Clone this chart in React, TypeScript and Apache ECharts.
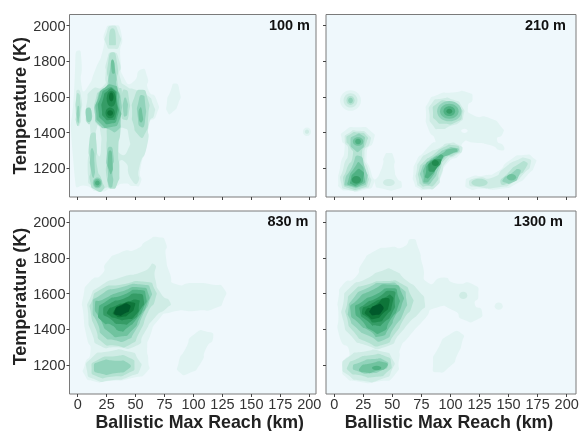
import React, { useEffect, useRef } from "react";
import * as echarts from "echarts";

const background = "#eff8fc";
const levelColors = ["#e2f4f3", "#cfece5", "#b4e2d2", "#92d3bb", "#70c39f", "#4fb183", "#359c66", "#1f8a4e", "#0e7539", "#00592b"];
const xTicks = [0, 25, 50, 75, 100, 125, 150, 175, 200];
const yTicks = [1200, 1400, 1600, 1800, 2000];
const panelNames = ["100 m", "210 m", "830 m", "1300 m"];

// Each entry: [level, outline as [km, K] points] or [level, [[km, K]], radiusKm, radiusK]
const contours100: any[] = [
  [0, [[-2,1115],[-2,1825],[1,1860],[3,1825],[4,1640],[8,1650],[15,1750],[22,1870],[24,1975],[30,2000],[37,1975],[37,1805],[41,1695],[47,1680],[55,1755],[60,1715],[61,1640],[68,1585],[68,1500],[61,1445],[60,1340],[54,1190],[54,1115],[48,1100],[41,1115],[31,1095],[18,1070],[8,1100]]],
  [0, [[78,1510],[77,1565],[80,1630],[84,1675],[88,1630],[87,1565],[81,1510]]],
  [0, [[198,1405]], 3.5, 24],
  [1, [[198,1405]], 1.8, 12],
  [1, [[-1.5,1520],[-1.5,1590],[0,1640],[3,1600],[3,1500],[1.5,1440],[-0.5,1445]]],
  [1, [[8,1510],[11,1395],[9,1155],[13,1095],[20,1085],[27,1095],[33,1100],[34,1200],[40,1240],[47,1130],[52,1120],[53,1200],[60,1330],[62,1460],[66,1500],[65,1560],[60,1610],[50,1640],[42,1660],[37,1700],[36,1800],[30,1850],[25,1800],[24,1720],[22,1660],[12,1640],[8,1570]]],
  [1, [[25,1960],[30,2000],[35,1965],[36,1890],[30,1870],[25,1890]]],
  [0, [[35,1395],[40,1425],[44,1380],[43,1300],[37,1280],[35,1340]]],
  [0, [[17,1440],[19,1430],[20,1300],[18,1270],[16,1350]]],
  [2, [[27,1900],[30,1985],[33,1900],[30,1890]]],
  [2, [[-1.5,1500],[-1,1610],[0.5,1620],[2,1590],[2,1490],[0.5,1440],[-1,1450]]],
  [2, [[7,1490],[9,1530],[12,1515],[11,1460],[9,1450]]],
  [2, [[16,1600],[20,1640],[25,1660],[26,1780],[30,1850],[34,1790],[35,1660],[38,1640],[37,1420],[35,1300],[36,1180],[34,1110],[30,1085],[26,1110],[25,1300],[25,1400],[24,1440],[18,1440],[15,1500]]],
  [2, [[10,1350],[11,1200],[11,1120],[15,1080],[22,1080],[21,1130],[17,1200],[16,1350],[14,1400]]],
  [2, [[47,1500],[49,1600],[55,1640],[60,1600],[61,1500],[57,1380],[52,1390],[48,1450]]],
  [2, [[37.5,1510],[38,1610],[41,1640],[44,1600],[44,1500],[41,1470]]],
  [3, [[-0.5,1480],[-0.5,1530],[0.5,1550],[1.5,1520],[1,1470],[0.5,1455]]],
  [3, [[7,1500],[9,1540],[12,1510],[10,1460]]],
  [3, [[11,1290],[13,1310],[14.5,1230],[14,1150],[12,1170]]],
  [3, [[17,1118]], 4, 30],
  [3, [[15,1500],[17,1590],[21,1640],[25,1650],[27,1720],[30,1800],[33,1730],[34,1650],[37,1600],[37,1480],[34,1410],[26,1420],[19,1440]]],
  [3, [[25,1260],[28,1320],[31,1260],[30,1200],[30,1100],[27,1100],[26,1190]]],
  [3, [[39.5,1510],[40,1590],[42,1590],[43,1520],[41,1490]]],
  [3, [[52,1480],[53,1590],[56,1610],[58,1580],[58,1460],[55,1430]]],
  [4, [[16,1510],[18,1600],[23,1650],[31,1665],[35,1630],[36,1560],[36,1470],[28,1430],[20,1450]]],
  [4, [[29,1760],[30,1810],[32,1760],[31,1730]]],
  [4, [[53,1470],[54,1540],[56,1500],[55.5,1460]]],
  [4, [[26,1240],[28,1300],[30,1240],[29,1170],[27,1190]]],
  [4, [[17,1118]], 3.2, 24],
  [5, [[17,1118]], 2, 14],
  [5, [[18,1520],[20,1600],[25,1645],[32,1640],[34,1590],[34,1480],[28,1450],[22,1465]]],
  [6, [[21,1520],[22,1590],[26,1635],[31,1640],[33,1600],[33,1490],[28,1470],[23,1485]]],
  [7, [[28,1510]], 4, 30],
  [7, [[29,1590]], 4, 45],
  [8, [[28,1510]], 2.5, 15],
  [8, [[29,1600]], 2, 25],
];

const contours210: any[] = [
  [0, [[14,1580]], 9, 58],
  [1, [[14,1580]], 6, 40],
  [2, [[14,1580]], 3.5, 25],
  [3, [[14,1580]], 2, 15],
  [0, [[3.5,1120],[5,1205],[9,1320],[6.5,1360],[8,1405],[21,1430],[32,1405],[34,1360],[28,1285],[32,1170],[34,1115],[26,1080],[12,1075],[5,1090]]],
  [1, [[6,1115],[8,1205],[12,1300],[9,1360],[12,1395],[21,1410],[29.5,1385],[31,1350],[26,1285],[30,1170],[31,1115],[25,1085],[12,1080]]],
  [2, [[10.5,1360],[13.5,1390],[21,1400],[28,1380],[28,1350],[24,1275],[28,1170],[29,1120],[24,1090],[12,1090],[8,1120],[10.5,1190],[16,1275],[13.5,1320]]],
  [3, [[14,1350],[18,1385],[24,1385],[26,1350],[22,1300],[18,1300]]],
  [3, [[9,1120],[15,1205],[21,1270],[27,1190],[28,1135],[24,1100],[12,1100]]],
  [4, [[20.5,1350]], 4.5, 24],
  [4, [[12,1130],[18,1210],[22,1230],[26,1150],[24,1110],[13,1105]]],
  [5, [[20.5,1350]], 2.5, 15],
  [5, [[14,1130],[18,1180],[23,1190],[25,1145],[21,1110],[15,1110]]],
  [6, [[19,1135]], 4, 22],
  [0, [[35,1115],[39,1170],[42,1225],[43,1265],[47,1285],[51,1265],[52,1190],[54,1145],[58,1115],[55,1085],[42,1085]]],
  [1, [[47,1120]], 5, 20],
  [0, [[69,1115],[68,1170],[71,1245],[77,1290],[84,1340],[87,1355],[81,1420],[79,1510],[81,1570],[88,1610],[102,1625],[115,1625],[119,1590],[115,1545],[119,1500],[134,1480],[144,1430],[145,1395],[140,1360],[146,1320],[144,1300],[134,1330],[119,1345],[111,1345],[109,1285],[97,1225],[92,1155],[88,1100],[79,1080],[72,1090]]],
  [-1, [[112,1410]], 2.8, 12],
  [1, [[82,1500],[84,1565],[92,1590],[102,1585],[110,1545],[111,1490],[108,1460],[101,1440],[91,1420],[85,1440]]],
  [2, [[85,1510],[88,1560],[99,1575],[107,1545],[110,1500],[105,1460],[94,1450],[88,1465]]],
  [3, [[99,1520]], 10.5, 57],
  [4, [[99,1520]], 8, 42],
  [5, [[99,1520]], 5, 27],
  [6, [[99,1520]], 2.5, 14],
  [1, [[71,1125],[71,1190],[74,1245],[81,1285],[91,1315],[98,1340],[107,1330],[110,1300],[105,1275],[97,1240],[92,1165],[88,1100],[79,1085],[74,1095]]],
  [2, [[73,1135],[73,1190],[77,1235],[85,1275],[95,1320],[102,1330],[108,1305],[103,1275],[96,1255],[91,1190],[87,1115],[79,1100],[75,1105]]],
  [3, [[75,1145],[75,1190],[80,1235],[88,1275],[97,1310],[104,1315],[107,1300],[101,1280],[94,1255],[90,1200],[85,1135],[79,1110]]],
  [4, [[77,1150],[78,1210],[84,1250],[92,1280],[100,1310],[106,1300],[100,1280],[92,1250],[88,1200],[84,1150],[78,1120]]],
  [5, [[79,1180],[81,1225],[87,1255],[93,1275],[92,1240],[88,1200],[84,1165],[79,1145]]],
  [6, [[81,1200],[84,1240],[90,1250],[92,1240],[88,1200],[84,1180]]],
  [7, [[87,1230]], 3, 17],
  [0, [[113,1120],[117,1150],[129,1160],[140,1180],[151,1245],[163,1275],[172,1255],[173,1225],[166,1160],[157,1115],[144,1085],[125,1085],[116,1085]]],
  [1, [[116,1115],[122,1145],[137,1150],[146,1200],[157,1245],[166,1255],[169,1225],[163,1170],[154,1120],[143,1095],[123,1095]]],
  [2, [[125,1120]], 7, 22],
  [2, [[143,1120],[149,1170],[159,1225],[165,1235],[165,1205],[157,1150],[150,1115]]],
  [3, [[145,1135],[152,1170],[159,1195],[159,1160],[153,1120],[147,1120]]],
  [4, [[152.5,1150]], 4, 18],
];

const contours830: any[] = [
  [0, [[6,1145],[6,1200],[11,1275],[8,1350],[5,1480],[5,1590],[11,1670],[21,1710],[25,1775],[37,1830],[51,1850],[60,1895],[70,1915],[76,1885],[76,1815],[80,1705],[84,1655],[100,1660],[117,1650],[126,1630],[126,1565],[119,1520],[103,1505],[80,1495],[70,1455],[62,1355],[60,1300],[61,1220],[60,1165],[48,1130],[25,1110],[14,1110]]],
  [0, [[87,1210],[93,1290],[101,1375],[113,1385],[117,1355],[111,1295],[106,1210],[96,1155],[88,1160]]],
  [1, [[13,1365],[9,1490],[11,1580],[19,1640],[37,1690],[57,1725],[66,1765],[67,1680],[72,1600],[80,1550],[77,1520],[67,1470],[57,1375],[51,1310],[32,1300],[19,1310]]],
  [1, [[8,1170],[12,1240],[25,1275],[45,1275],[52,1235],[54,1180],[46,1140],[28,1115],[15,1120]]],
  [2, [[16,1395],[11,1505],[12,1555],[19,1620],[37,1650],[60,1665],[66,1630],[67,1570],[61,1500],[53,1380],[45,1315],[32,1310],[21,1330]]],
  [2, [[12,1180],[16,1225],[32,1250],[45,1240],[49,1200],[45,1160],[29,1135],[16,1140]]],
  [3, [[18,1420],[13,1530],[19,1590],[37,1635],[57,1650],[63,1620],[62,1560],[57,1490],[49,1385],[42,1340],[32,1340],[22,1365]]],
  [3, [[14,1185],[19,1220],[32,1225],[44,1210],[44,1180],[32,1155],[19,1155]]],
  [4, [[20,1450],[15,1545],[21,1565],[37,1610],[55,1635],[61,1600],[60,1545],[54,1470],[47,1395],[37,1360],[28,1380]]],
  [5, [[18,1500],[24,1555],[38,1590],[54,1620],[59,1580],[57,1525],[51,1460],[42,1405],[37,1390],[29,1425],[22,1440]]],
  [6, [[22,1500],[28,1545],[39,1570],[52,1600],[57,1565],[54,1510],[47,1450],[37,1430],[28,1460]]],
  [7, [[26,1505],[32,1530],[42,1550],[52,1565],[53,1540],[50,1480],[42,1455],[34,1460],[27,1480]]],
  [8, [[31,1500],[38,1540],[48,1550],[49,1525],[45,1490],[38,1470],[32,1480]]],
  [9, [[32,1505],[38,1535],[44,1540],[45,1515],[41,1490],[34,1480]]],
];

const contours1300: any[] = [
  [0, [[7,1180],[8,1220],[13,1275],[5,1350],[3.5,1500],[3.5,1570],[8,1655],[18,1690],[24,1770],[34,1835],[48,1860],[59,1860],[67,1905],[72,1860],[76,1760],[81,1660],[94,1690],[103,1660],[120,1650],[124,1590],[121,1540],[127,1505],[123,1455],[111,1455],[103,1505],[87,1520],[78,1460],[63,1350],[57,1295],[56,1240],[52,1145],[39,1110],[19,1110],[9,1140]]],
  [0, [[85,1200],[89,1290],[100,1375],[110,1375],[110,1330],[106,1260],[100,1195],[88,1160]]],
  [0, [[141.5,1530]], 3.5, 20],
  [1, [[111,1590]], 3.5, 20],
  [1, [[8,1445],[8,1555],[13,1630],[28,1685],[42,1730],[51,1730],[62,1675],[72,1620],[78,1545],[74,1500],[64,1435],[57,1380],[45,1305],[26,1315],[15,1360]]],
  [1, [[7,1190],[12,1245],[25,1275],[42,1275],[50,1235],[50,1180],[42,1125],[22,1115],[12,1145]]],
  [2, [[11,1465],[11,1540],[16,1610],[28,1650],[45,1670],[58,1655],[66,1590],[67,1535],[60,1460],[52,1375],[42,1315],[28,1330],[17,1385]]],
  [2, [[12,1200],[18,1230],[31,1255],[44,1250],[49,1210],[46,1165],[36,1135],[21,1145],[13,1165]]],
  [3, [[12,1500],[16,1570],[28,1630],[45,1660],[57,1635],[62,1570],[60,1500],[52,1415],[42,1340],[31,1360],[18,1415],[13,1465]]],
  [3, [[16,1190],[22,1215],[34,1235],[44,1225],[46,1195],[42,1175],[31,1155],[21,1165]]],
  [4, [[14,1505],[19,1560],[31,1615],[50,1650],[58,1605],[58,1535],[52,1470],[48,1415],[39,1360],[31,1390],[21,1435]]],
  [4, [[22,1185],[31,1210],[44,1215],[45,1190],[38,1170],[25,1160]]],
  [5, [[36.5,1185]], 4, 12],
  [5, [[18,1510],[24,1555],[34,1590],[50,1630],[55,1585],[55,1530],[48,1450],[41,1385],[32,1395],[25,1440]]],
  [6, [[22,1505],[26,1540],[35,1570],[50,1615],[52,1560],[50,1495],[42,1435],[37,1420],[29,1445]]],
  [7, [[24,1505],[31,1540],[44,1580],[49,1590],[50,1545],[45,1480],[36,1440],[29,1465]]],
  [8, [[27,1505],[34,1530],[45,1575],[47,1535],[42,1490],[35,1460],[29,1475]]],
  [9, [[31,1510],[36,1535],[41,1535],[41,1500],[35,1480],[31,1490]]],
];

const panelContours = [contours100, contours210, contours830, contours1300];
const axisLimits = [[-7.1, 205.8], [-7.1, 208], [-7.1, 205.8], [-7.1, 208]];

const colorOf = (level: number) => (level < 0 ? background : levelColors[level]);

function renderContour(panel: any[]) {
  return (params: any, api: any) => {
    const c = panel[params.dataIndex];
    const fill = colorOf(c[0]);
    if (c.length === 4) {
      const [cx, cy] = api.coord(c[1][0]);
      const [w, h] = api.size([c[2], c[3]]);
      return { type: "ellipse", shape: { cx, cy, rx: w, ry: h }, style: { fill } };
    }
    const points = c[1].map((p: number[]) => api.coord(p));
    return { type: "polygon", shape: { points, smooth: 0.8 }, style: { fill } };
  };
}

export default function App() {
  const ref = useRef<HTMLDivElement>(null);
  useEffect(() => {
    const chart = echarts.init(ref.current!, undefined, { renderer: "svg" });
    const font = "'Liberation Sans', Arial, sans-serif";
    const grids = [
      { left: 69.5, top: 14.5, width: 246.5, height: 182.5 },
      { left: 326, top: 14.5, width: 250, height: 182.5 },
      { left: 69.5, top: 211, width: 246.5, height: 183 },
      { left: 326, top: 211, width: 250, height: 183 },
    ];
    const labelPos = [[310, 25], [566, 25], [308.5, 221], [563, 221]];
    const xNamePadding: any[] = [0, 0, [0, 0, 0, 14], [0, 4, 0, 0]];
    const plain = (v: number) => String(v);
    chart.setOption({
      animation: false,
      grid: grids.map((g) => ({ ...g, outerBoundsMode: "none", show: true, backgroundColor: background, borderColor: "#7a7a7a", borderWidth: 1 })),
      xAxis: grids.map((_, i) => ({
        type: "value",
        gridIndex: i,
        min: axisLimits[i][0],
        max: axisLimits[i][1],
        splitLine: { show: false },
        axisLine: { show: false, onZero: false },
        axisTick: { show: true, length: 3, lineStyle: { color: "#444" }, customValues: xTicks },
        axisLabel: { show: i >= 2, color: "#333", fontFamily: font, fontSize: 14.5, margin: 2, formatter: plain, customValues: xTicks, hideOverlap: false },
        name: i >= 2 ? "Ballistic Max Reach (km)" : "",
        nameLocation: "middle",
        nameMoveOverlap: false,
        nameGap: 19,
        nameTextStyle: { color: "#222", fontFamily: font, fontSize: 17.8, fontWeight: "bold", verticalAlign: "top", padding: xNamePadding[i] },
      })),
      yAxis: grids.map((_, i) => ({
        type: "value",
        gridIndex: i,
        min: 1039,
        max: 2062,
        splitLine: { show: false },
        axisLine: { show: false, onZero: false },
        axisTick: { show: true, length: 3, lineStyle: { color: "#444" }, customValues: yTicks },
        axisLabel: { show: i % 2 === 0, color: "#333", fontFamily: font, fontSize: 14.5, margin: 4, formatter: plain, customValues: yTicks },
        name: i % 2 === 0 ? "Temperature (K)" : "",
        nameLocation: "middle",
        nameMoveOverlap: false,
        nameGap: 41,
        nameTextStyle: { color: "#222", fontFamily: font, fontSize: 18, fontWeight: "bold", padding: i === 2 ? [0, 0, 0, 12] : 0 },
      })),
      series: panelContours.map((panel, i) => ({
        type: "custom",
        xAxisIndex: i,
        yAxisIndex: i,
        coordinateSystem: "cartesian2d",
        clip: true,
        data: panel.map((c) => [c[1][0][0], c[1][0][1]]),
        renderItem: renderContour(panel),
      })),
      graphic: panelNames.map((name, i) => ({
        type: "text",
        x: labelPos[i][0],
        y: labelPos[i][1],
        z: 20,
        style: { text: name, fill: "#111", font: `bold 14.5px ${font}`, textAlign: "right", textVerticalAlign: "middle" },
      })),
    });
    return () => chart.dispose();
  }, []);
  return <div ref={ref} style={{ position: "fixed", left: 0, top: 0, width: 579, height: 431, background: "#fff", filter: "blur(0.45px)" }} />;
}
